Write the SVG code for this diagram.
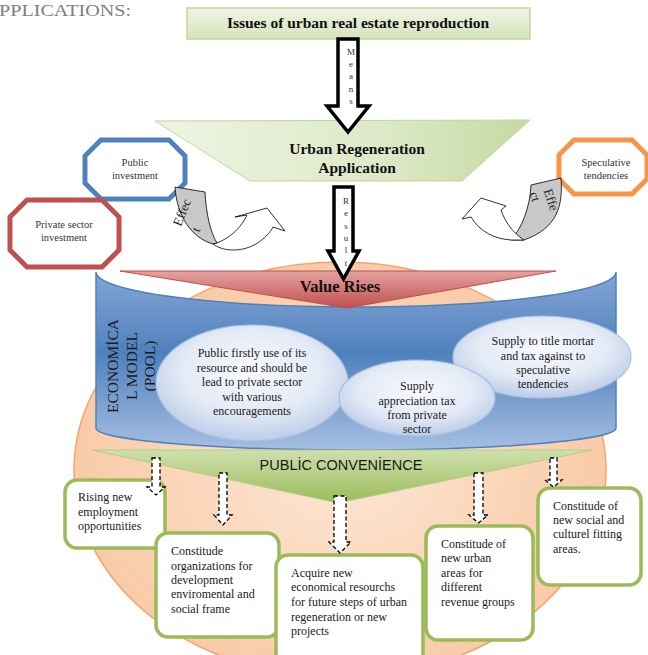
<svg xmlns="http://www.w3.org/2000/svg" width="648" height="655" viewBox="0 0 648 655">
<defs>
  <linearGradient id="gTitle" x1="0" y1="0" x2="0" y2="1">
    <stop offset="0" stop-color="#eef4e4"/><stop offset="1" stop-color="#d6e4bb"/>
  </linearGradient>
  <linearGradient id="gUrban" x1="0" y1="0" x2="1" y2="0">
    <stop offset="0" stop-color="#eef4e3"/><stop offset="0.6" stop-color="#dde9c8"/><stop offset="1" stop-color="#c6d9a2"/>
  </linearGradient>
  <linearGradient id="gRed" x1="0" y1="0" x2="0" y2="1">
    <stop offset="0" stop-color="#e3a3a1"/><stop offset="1" stop-color="#c0504d"/>
  </linearGradient>
  <linearGradient id="gGreen" x1="0" y1="0" x2="0" y2="1">
    <stop offset="0" stop-color="#cfe0ad"/><stop offset="1" stop-color="#9bbb59"/>
  </linearGradient>
  <linearGradient id="gBlue" gradientUnits="userSpaceOnUse" x1="0" y1="272" x2="0" y2="452">
    <stop offset="0" stop-color="#86a6d6"/><stop offset="0.45" stop-color="#4f81bd"/><stop offset="1" stop-color="#a7c0e3"/>
  </linearGradient>
  <radialGradient id="gOrange" cx="0.5" cy="0.5" r="0.5">
    <stop offset="0" stop-color="#fde6d4"/><stop offset="1" stop-color="#f9cba8"/>
  </radialGradient>
  <radialGradient id="gEll" cx="0.5" cy="0.4" r="0.6">
    <stop offset="0" stop-color="#f7f9fd"/><stop offset="0.6" stop-color="#e4ebf6"/><stop offset="1" stop-color="#bccde8"/>
  </radialGradient>
</defs>
<style>
  .serif{font-family:"Liberation Serif","Times New Roman",serif}
  .sans{font-family:"Liberation Sans",Arial,sans-serif}
  .box{fill:#fff;stroke:#9bbb59;stroke-width:3.5}
  .bt{font-family:"Liberation Serif","Times New Roman",serif;font-size:12px;fill:#1a1a1a}
  .ell{fill:url(#gEll);stroke:#a9bfe0;stroke-width:1.2}
  .et{font-family:"Liberation Serif","Times New Roman",serif;font-size:12px;fill:#1a1a1a;text-anchor:middle}
  .ot{font-family:"Liberation Serif","Times New Roman",serif;font-size:10.5px;fill:#333;text-anchor:middle}
  .let{font-family:"Liberation Serif","Times New Roman",serif;font-size:9px;fill:#333;text-anchor:middle}
  .barrow{fill:#fff;stroke:#000;stroke-width:3.5;stroke-linejoin:miter}
  .darrow{fill:#fff;stroke:#000;stroke-width:1.3;stroke-dasharray:4 2.5}
  .band{fill:#c8c8c8;stroke:#000;stroke-width:0.8}
  .carrow{fill:#fff;stroke:#000;stroke-width:0.8;stroke-linejoin:miter}
  .eff{font-family:"Liberation Serif","Times New Roman",serif;font-size:13px;fill:#222;text-anchor:middle}
</style>

<text x="-1" y="16" class="serif" font-size="17" fill="#7f7f7f" textLength="132" lengthAdjust="spacingAndGlyphs">PPLICATIONS:</text>

<g id="background-circle">
  <ellipse cx="340" cy="470" rx="266" ry="208" fill="url(#gOrange)" stroke="#f6a46b" stroke-width="1.5"/>
</g>

<g id="economical-model-pool">
  <path d="M96,272 A260,35 0 0 0 616,272 L616,428 A260,22 0 0 1 96,428 Z" fill="url(#gBlue)" stroke="#4f81bd" stroke-width="1.5"/>
  <g class="serif" font-size="15.5" fill="#1a1a1a" text-anchor="middle">
    <text transform="translate(118,366) rotate(-90)">ECONOMİCA</text>
    <text transform="translate(137,366) rotate(-90)">L MODEL</text>
    <text transform="translate(155,366) rotate(-90)">(POOL)</text>
  </g>
</g>

<g id="ellipse-public">
  <ellipse class="ell" cx="252" cy="383" rx="96" ry="58"/>
  <text class="et" x="252" y="357">Public firstly use of its</text>
  <text class="et" x="252" y="372">resource and should be</text>
  <text class="et" x="252" y="386">lead to private sector</text>
  <text class="et" x="252" y="401">with various</text>
  <text class="et" x="252" y="415">encouragements</text>
</g>
<g id="ellipse-speculative">
  <ellipse class="ell" cx="542" cy="357" rx="89" ry="41"/>
  <text class="et" x="543" y="345">Supply to title mortar</text>
  <text class="et" x="543" y="360">and tax against to</text>
  <text class="et" x="543" y="374">speculative</text>
  <text class="et" x="543" y="388">tendencies</text>
</g>
<g id="ellipse-appreciation">
  <ellipse class="ell" cx="417" cy="398" rx="78" ry="38"/>
  <text class="et" x="417" y="390">Supply</text>
  <text class="et" x="417" y="405">appreciation tax</text>
  <text class="et" x="417" y="419">from private</text>
  <text class="et" x="417" y="433">sector</text>
</g>

<g id="value-rises">
  <polygon points="120,271 556,271 347,308" fill="url(#gRed)" stroke="#c0504d" stroke-width="1"/>
  <text x="340" y="292" class="serif" font-size="16.5" font-weight="bold" fill="#111" text-anchor="middle">Value Rises</text>
</g>

<g id="issues">
  <rect x="187" y="8" width="343" height="31" fill="url(#gTitle)" stroke="#c3d69b" stroke-width="1.5"/>
  <text x="358" y="28" class="serif" font-size="15.5" font-weight="bold" fill="#111" text-anchor="middle">Issues of urban real estate reproduction</text>
</g>

<g id="urban-regeneration">
  <polygon points="155,121 530,120 462,181 250,181" fill="url(#gUrban)" stroke="#c3d69b" stroke-width="1"/>
  <text x="357" y="154" class="serif" font-size="15.5" font-weight="bold" fill="#111" text-anchor="middle">Urban Regeneration</text>
  <text x="357" y="173" class="serif" font-size="15.5" font-weight="bold" fill="#111" text-anchor="middle">Application</text>
</g>

<g id="public-investment">
  <path d="M101,140 L169,140 L185,156 L185,183 L169,199 L101,199 L85,183 L85,156 Z" fill="#fff" stroke="#4f81bd" stroke-width="5"/>
  <path d="M102,143.5 L168,143.5 L181.5,157 L181.5,182 L168,195.5 L102,195.5 L88.5,182 L88.5,157 Z" fill="none" stroke="#fff" stroke-width="1.2"/>
  <text class="ot" x="135" y="166">Public</text>
  <text class="ot" x="135" y="179">investment</text>
</g>

<g id="private-investment">
  <path d="M27,200 L102,200 L119,217 L119,250 L102,267 L27,267 L10,250 L10,217 Z" fill="#fff" stroke="#c0504d" stroke-width="5"/>
  <path d="M28,203.5 L101,203.5 L115.5,218 L115.5,249 L101,263.5 L28,263.5 L13.5,249 L13.5,218 Z" fill="none" stroke="#fff" stroke-width="1.2"/>
  <text class="ot" x="64" y="228">Private sector</text>
  <text class="ot" x="64" y="241">investment</text>
</g>

<g id="speculative-tendencies">
  <path d="M574,140 L632,140 L647,155 L647,179 L632,194 L574,194 L559,179 L559,155 Z" fill="#fff" stroke="#f79646" stroke-width="5"/>
  <path d="M575,143.5 L631,143.5 L643.5,156 L643.5,178 L631,190.5 L575,190.5 L562.5,178 L562.5,156 Z" fill="none" stroke="#fff" stroke-width="1.2"/>
  <text class="ot" x="606" y="166">Speculative</text>
  <text class="ot" x="606" y="179">tendencies</text>
</g>

<g id="public-convenience">
  <polygon points="92,450 592,450 338,503" fill="url(#gGreen)" stroke="#b5cc86" stroke-width="1"/>
  <text x="341" y="470" class="sans" font-size="14.5" fill="#1a1a1a" text-anchor="middle">PUBLİC CONVENİENCE</text>
</g>

<g id="box-employment">
  <rect class="box" x="65" y="480" width="100" height="68" rx="12"/>
  <text class="bt" x="78" y="501">Rising new</text>
  <text class="bt" x="78" y="516">employment</text>
  <text class="bt" x="78" y="530">opportunities</text>
</g>
<g id="box-organizations">
  <rect class="box" x="156" y="533" width="123" height="104" rx="12"/>
  <text class="bt" x="171" y="555">Constitude</text>
  <text class="bt" x="171" y="570">organizations for</text>
  <text class="bt" x="171" y="584">development</text>
  <text class="bt" x="171" y="598">enviromental and</text>
  <text class="bt" x="171" y="613">social frame</text>
</g>
<g id="box-resources">
  <rect class="box" x="276" y="555" width="147" height="112" rx="12"/>
  <text class="bt" x="291" y="577">Acquire new</text>
  <text class="bt" x="291" y="591">economical resourchs</text>
  <text class="bt" x="291" y="606">for future steps of urban</text>
  <text class="bt" x="291" y="621">regeneration or new</text>
  <text class="bt" x="291" y="635">projects</text>
</g>
<g id="box-urban-areas">
  <rect class="box" x="426" y="526" width="107" height="114" rx="12"/>
  <text class="bt" x="441" y="548">Constitude of</text>
  <text class="bt" x="441" y="562">new urban</text>
  <text class="bt" x="441" y="577">areas for</text>
  <text class="bt" x="441" y="591">different</text>
  <text class="bt" x="441" y="606">revenue groups</text>
</g>
<g id="box-social">
  <rect class="box" x="538" y="488" width="103" height="97" rx="12"/>
  <text class="bt" x="553" y="510">Constitude of</text>
  <text class="bt" x="553" y="524">new social and</text>
  <text class="bt" x="553" y="538">culturel fitting</text>
  <text class="bt" x="553" y="553">areas.</text>
</g>

<g id="connectors">
  <g id="means-arrow">
    <path class="barrow" d="M338,39 L358,39 L358,106 L369,106 L348,132 L327,106 L338,106 Z"/>
    <text class="let" x="351" y="55">M</text>
    <text class="let" x="351" y="67">e</text>
    <text class="let" x="351" y="79">a</text>
    <text class="let" x="351" y="92">n</text>
    <text class="let" x="351" y="104">s</text>
  </g>
  <g id="result-arrow">
    <path class="barrow" d="M334,187 L353,187 L353,251 L359,251 L343.5,279 L328,251 L334,251 Z"/>
    <text class="let" x="346" y="204">R</text>
    <text class="let" x="346" y="216">e</text>
    <text class="let" x="346" y="229">s</text>
    <text class="let" x="346" y="241">u</text>
    <text class="let" x="346" y="253">l</text>
    <text class="let" x="346" y="266">t</text>
  </g>
  <g id="effect-left">
    <path class="band" d="M175,187 L205,192 C206,212 210,232 217,243 L213,244 C192,238 177,217 175,187 Z"/>
    <path class="carrow" d="M213,244 C222,251 240,253 256,244 C264,239 270,233 273,227 L285,231 L267,208 L235,217 L247,215 C242,226 232,237 217,243 Z"/>
    <text class="eff" transform="translate(186,214) rotate(-68)">Effec</text>
    <text class="eff" transform="translate(200,231) rotate(-68)">t</text>
  </g>
  <g id="effect-right">
    <path class="band" d="M531,185 L561,178 C563,205 558,228 524,240 L511,240 C522,228 530,207 531,185 Z"/>
    <path class="carrow" d="M511,240 C495,239 480,232 471,217 L462,219 L481,198 L506,206 L501,210 C505,222 513,233 524,240 Z"/>
    <text class="eff" transform="translate(547,201) rotate(72)">Effe</text>
    <text class="eff" transform="translate(531,198) rotate(72)">ct</text>
  </g>
  <path class="darrow" d="M152,458 L160,458 L160,487 L165,487 L156,495 L147,487 L152,487 Z"/>
  <path class="darrow" d="M219,473 L227,473 L227,515 L232,515 L223,525 L214,515 L219,515 Z"/>
  <path class="darrow" d="M334,496 L346,496 L346,542 L351,542 L340,553 L329,542 L334,542 Z"/>
  <path class="darrow" d="M474,473 L483,473 L483,515 L488,515 L478.5,523 L469,515 L474,515 Z"/>
  <path class="darrow" d="M550,458 L557,458 L557,480 L562,480 L553.5,487 L545,480 L550,480 Z"/>
</g>
</svg>
